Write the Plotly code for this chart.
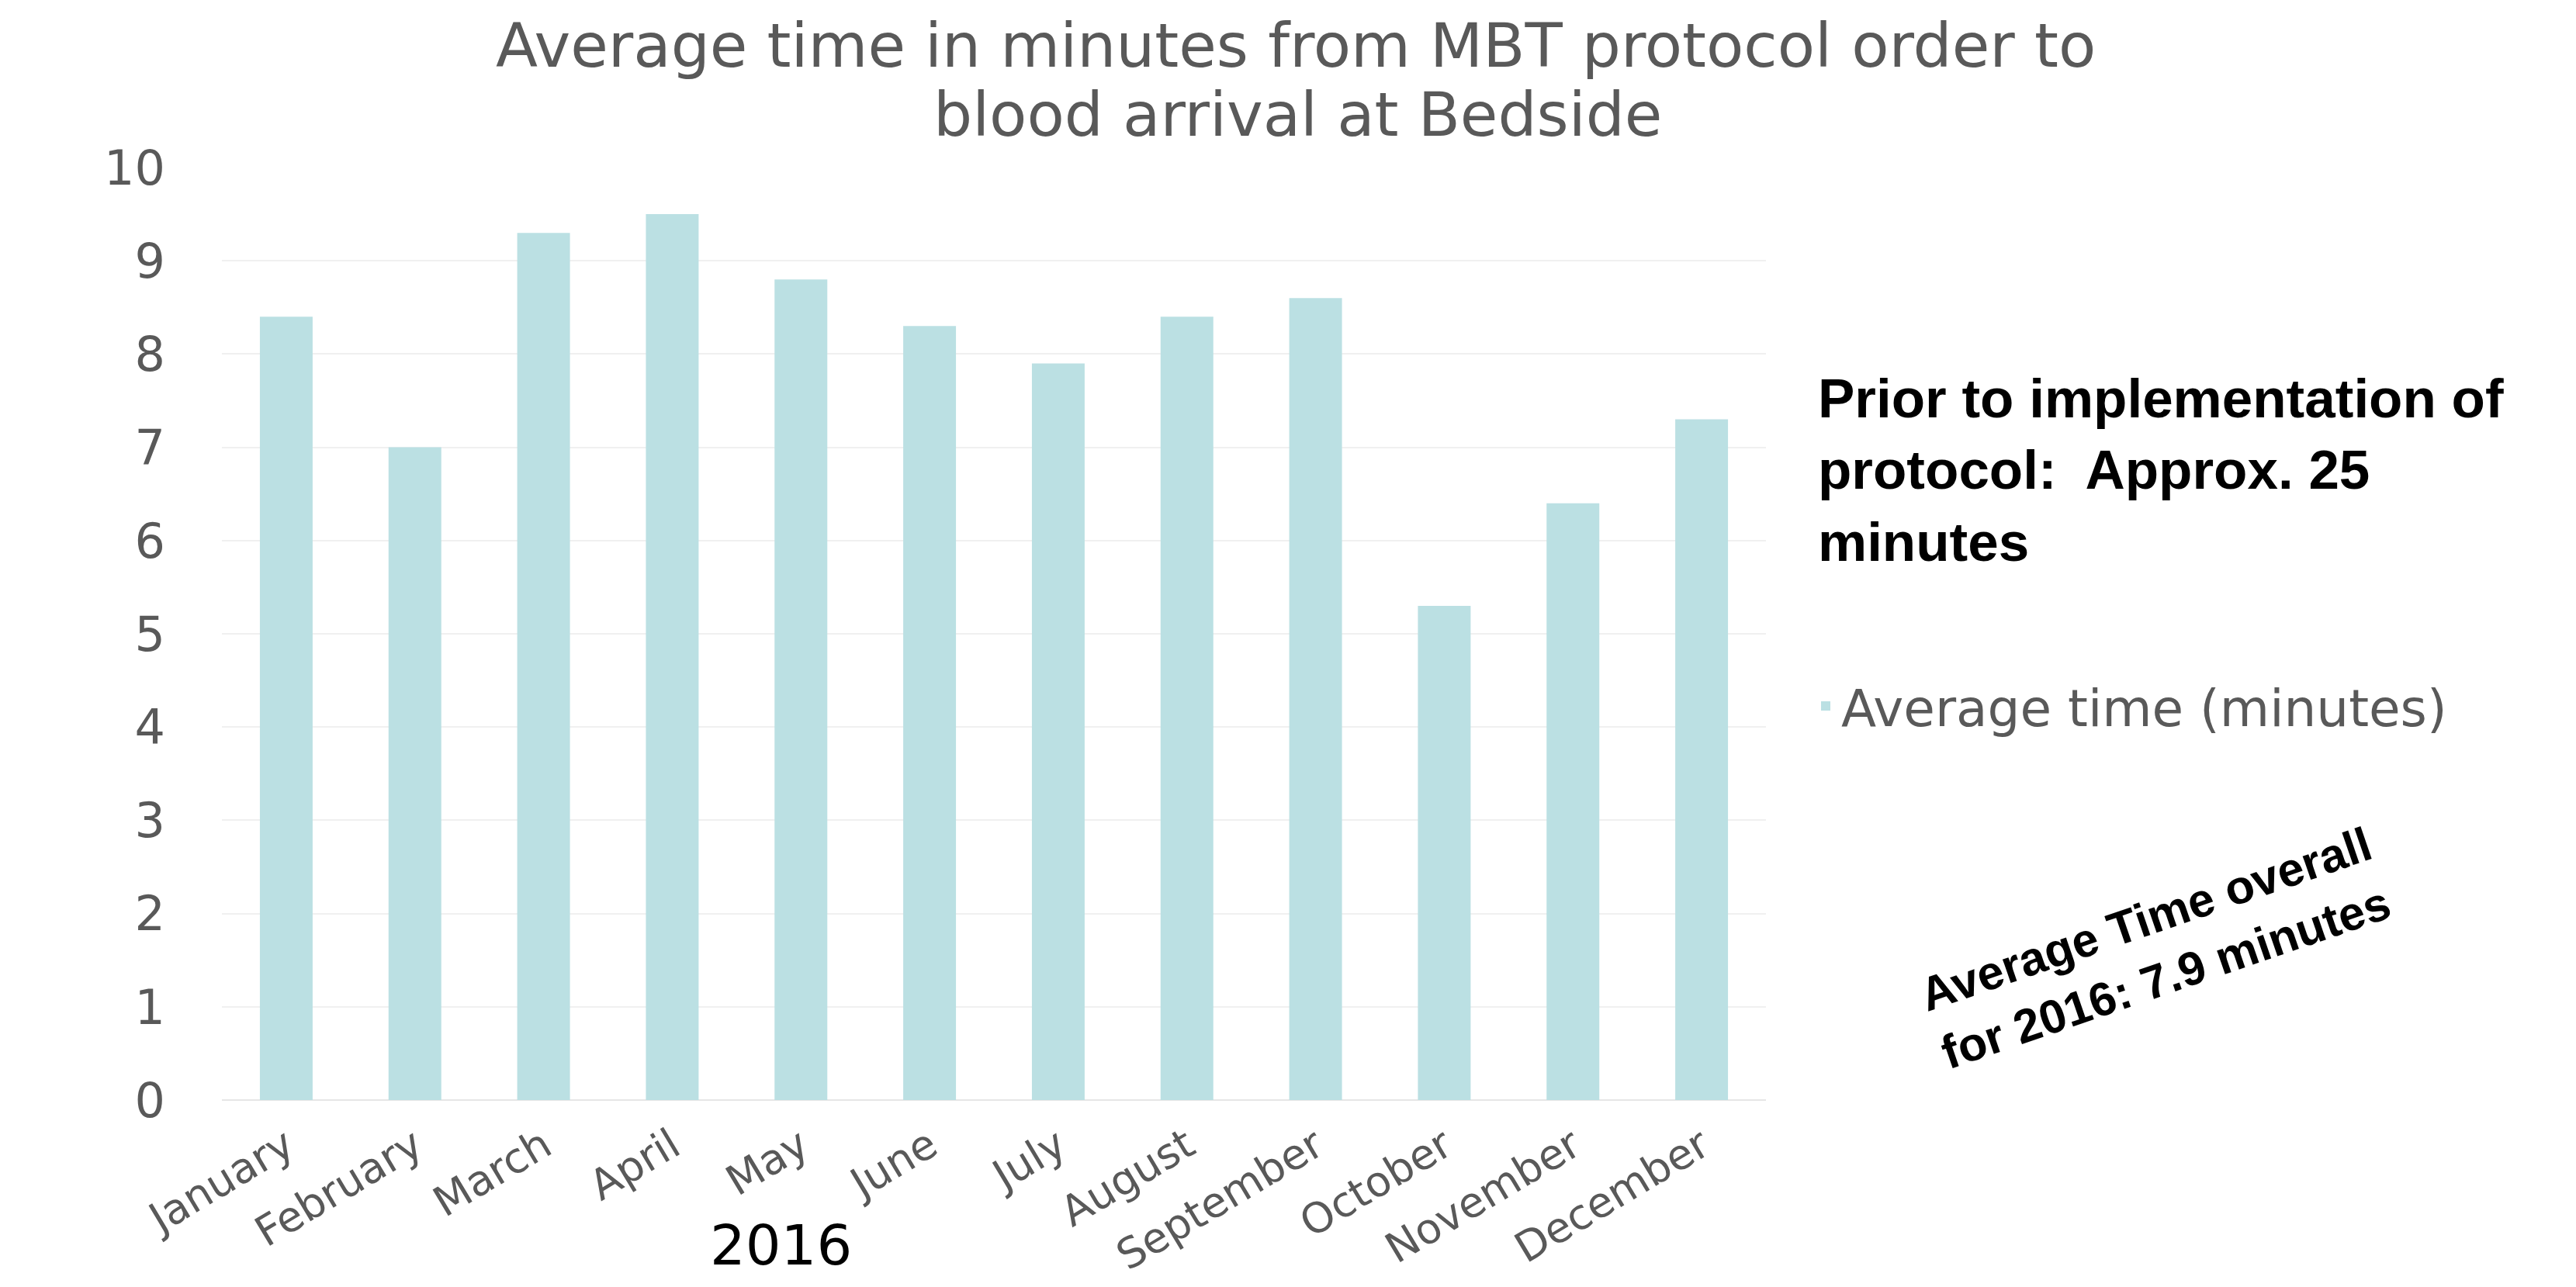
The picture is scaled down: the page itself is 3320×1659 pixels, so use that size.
import plotly.graph_objects as go

months = ["January", "February", "March", "April", "May", "June", "July",
          "August", "September", "October", "November", "December"]
avg_minutes = [8.4, 7.0, 9.3, 9.5, 8.8, 8.3, 7.9, 8.4, 8.6, 5.3, 6.4, 7.3]
series_name = "Average time (minutes)"
title_lines = ["Average time in minutes from MBT protocol order to",
               "blood arrival at Bedside"]
year_label = "2016"
prior_note = "Prior to implementation of<br>protocol:&nbsp; Approx. 25<br>minutes"
overall_note = "Average Time overall<br>for 2016: 7.9 minutes"

W, H = 3320, 1659
ML, MR, MT, MB = 286, 1044, 216, 241
PW, PH = W - ML - MR, H - MT - MB
GRAY = "#595959"
BAR = "#BBE0E3"


def px(x):
    return (x - ML) / PW


def py(y):
    return (H - MB - y) / PH


fig = go.Figure()
fig.add_trace(go.Bar(x=months, y=avg_minutes, name=series_name,
                     marker=dict(color=BAR, line=dict(width=0)),
                     showlegend=True))

fig.update_layout(
    width=W, height=H,
    margin=dict(l=ML, r=MR, t=MT, b=MB, pad=0, autoexpand=False),
    paper_bgcolor="white", plot_bgcolor="white",
    bargap=0.59,
    font=dict(family="DejaVu Sans", color=GRAY),
    showlegend=True,
    legend=dict(x=px(2333), y=py(910), xanchor="left", yanchor="middle",
                xref="paper", yref="paper",
                font=dict(family="DejaVu Sans", size=66, color=GRAY),
                bgcolor="rgba(0,0,0,0)"),
    xaxis=dict(tickangle=-31, tickfont=dict(family="DejaVu Sans", size=54, color=GRAY),
               showgrid=False, showline=False, ticks="", zeroline=False,
               automargin=False, ticklabelstandoff=16),
    yaxis=dict(range=[0, 10], dtick=1, tickfont=dict(family="DejaVu Sans", size=62, color=GRAY),
               showgrid=True, gridcolor="#F0F0F0", gridwidth=2,
               zeroline=True, zerolinecolor="#E6E6E6", zerolinewidth=2,
               showline=False, ticks="", ticklabelstandoff=72, automargin=False),
)

# Title (two lines)
fig.add_annotation(text=title_lines[0], xref="paper", yref="paper",
                   x=px(1670), y=py(59), xanchor="center", yanchor="middle",
                   showarrow=False,
                   font=dict(family="DejaVu Sans", size=79, color=GRAY))
fig.add_annotation(text=title_lines[1], xref="paper", yref="paper",
                   x=px(1672), y=py(148), xanchor="center", yanchor="middle",
                   showarrow=False,
                   font=dict(family="DejaVu Sans", size=79, color=GRAY))

# Year label under axis
fig.add_annotation(text=year_label, xref="paper", yref="paper",
                   x=px(1006), y=py(1605), xanchor="center", yanchor="middle",
                   showarrow=False,
                   font=dict(family="DejaVu Sans", size=72, color="black"))

# Bold note on right
fig.add_annotation(text=prior_note, xref="paper", yref="paper",
                   x=px(2341), y=py(606), xanchor="left", yanchor="middle",
                   align="left", showarrow=False,
                   font=dict(family="Liberation Sans", size=71, color="black", weight="bold"))

# Rotated note
fig.add_annotation(text=overall_note, xref="paper", yref="paper",
                   x=px(2778), y=py(1222), xanchor="center", yanchor="middle",
                   align="center", showarrow=False, textangle=-19,
                   font=dict(family="Liberation Sans", size=61, color="black", weight="bold"))

fig.write_html("out.html")
